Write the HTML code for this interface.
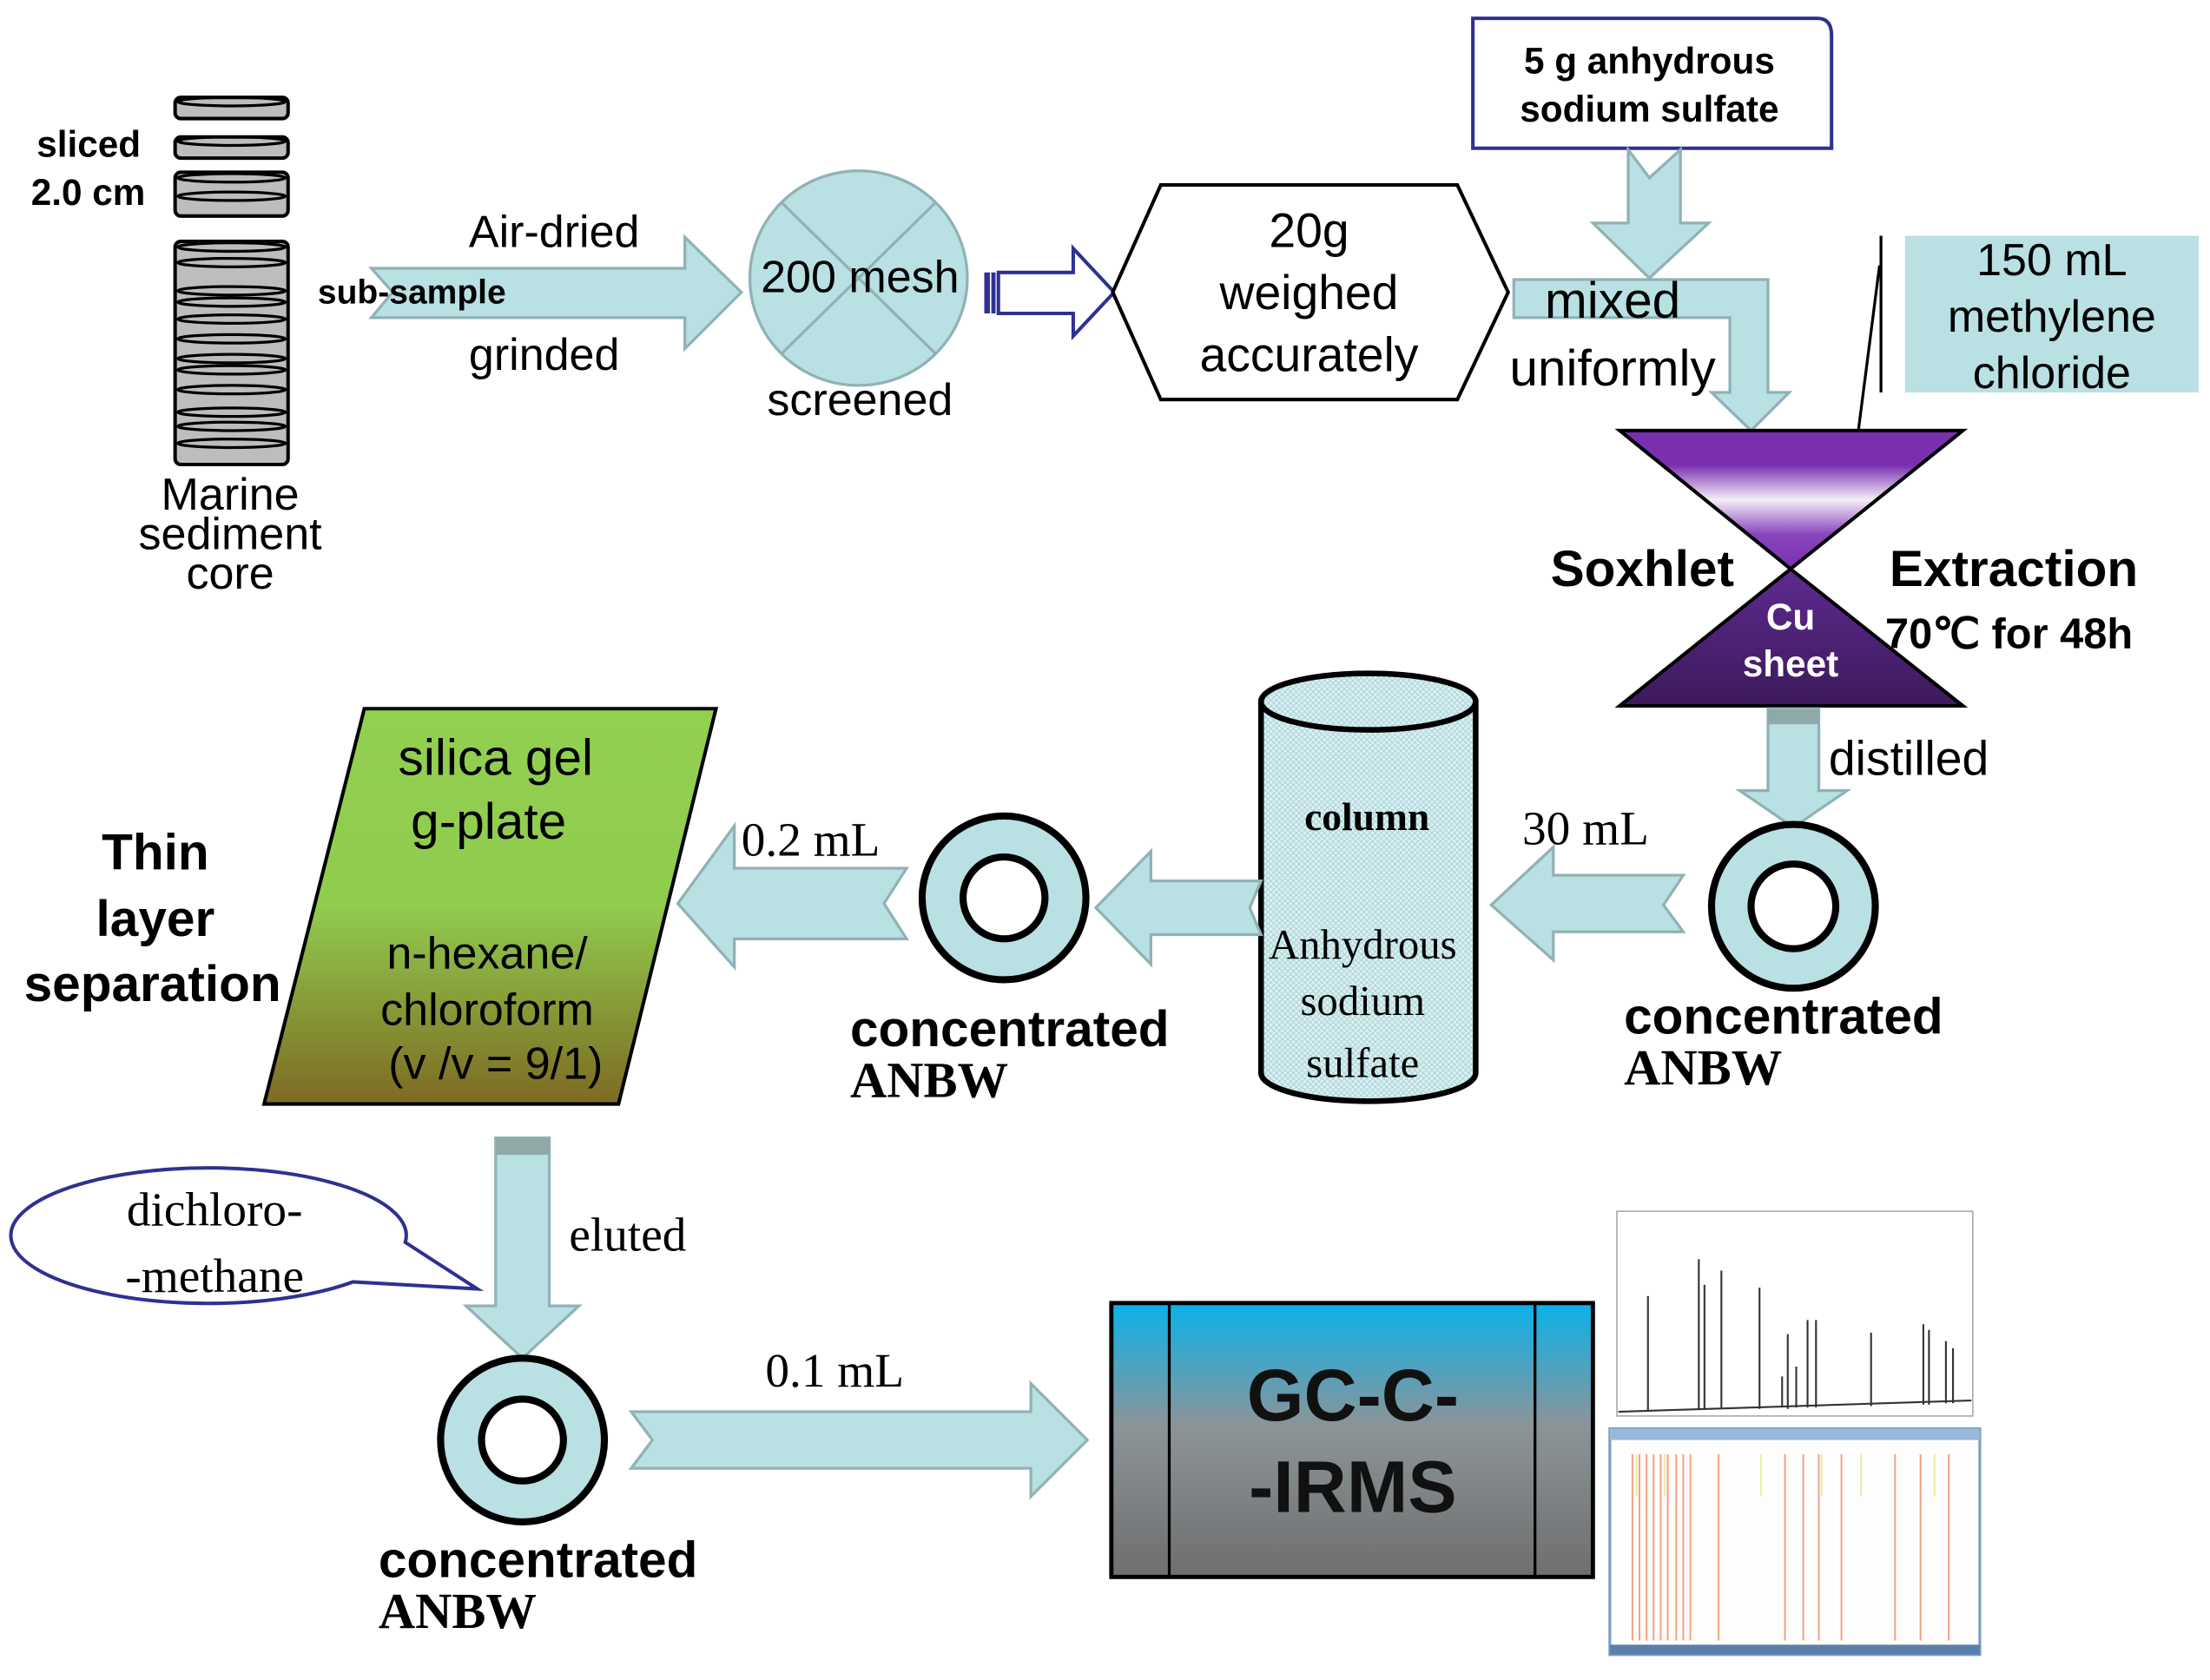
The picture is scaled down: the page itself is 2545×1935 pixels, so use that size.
<!DOCTYPE html>
<html><head><meta charset="utf-8"><style>
html,body{margin:0;padding:0;background:#fff;}
svg{display:block;}
text{font-family:"Liberation Sans",sans-serif;fill:#000;}
.s{font-family:"Liberation Serif",serif;}
.b{font-weight:bold;}
</style></head><body>
<svg width="2545" height="1935" viewBox="0 0 1565 1190" preserveAspectRatio="none" xmlns="http://www.w3.org/2000/svg">
<defs>
<linearGradient id="gTop" x1="0" y1="0" x2="0" y2="1">
<stop offset="0" stop-color="#7a2fb0"/><stop offset="0.25" stop-color="#7a2fb0"/><stop offset="0.5" stop-color="#f4eef8"/><stop offset="0.75" stop-color="#8a45bd"/><stop offset="1" stop-color="#7a2fb0"/></linearGradient>
<linearGradient id="gBot" x1="0" y1="0" x2="0" y2="1"><stop offset="0" stop-color="#5e2a90"/><stop offset="1" stop-color="#3c1a5a"/></linearGradient>
<linearGradient id="gGreen" x1="0" y1="0" x2="0" y2="1"><stop offset="0" stop-color="#92d050"/><stop offset="0.5" stop-color="#90cc4e"/><stop offset="1" stop-color="#7e6a22"/></linearGradient>
<linearGradient id="gGC" x1="0" y1="0" x2="0" y2="1"><stop offset="0" stop-color="#0ab2ea"/><stop offset="0.45" stop-color="#8c9498"/><stop offset="1" stop-color="#6e6e6e"/></linearGradient>
<pattern id="hatch" width="4" height="4" patternUnits="userSpaceOnUse"><rect width="4" height="4" fill="#dcf0f2"/><path d="M0 0L4 4M4 0L0 4" stroke="#a9d3d8" stroke-width="0.6"/></pattern>
</defs>

<!-- core discs -->
<g stroke="#000" stroke-width="2.5" fill="#bdbdbd">
<rect x="124" y="69" width="80" height="15" rx="4"/>
<rect x="124" y="97" width="80" height="15" rx="4"/>
<rect x="124" y="122" width="80" height="31" rx="4"/>
<rect x="124" y="171" width="80" height="158" rx="4"/>
</g>
<g stroke="#000" stroke-width="2" fill="none">
<ellipse cx="164" cy="72" rx="38" ry="3"/><ellipse cx="164" cy="100" rx="38" ry="3"/>
<ellipse cx="164" cy="126" rx="38" ry="3"/><ellipse cx="164" cy="139" rx="38" ry="3"/>
<ellipse cx="164" cy="175" rx="38" ry="3"/><ellipse cx="164" cy="186" rx="38" ry="3"/>
<ellipse cx="164" cy="206" rx="38" ry="3"/><ellipse cx="164" cy="214" rx="38" ry="3"/>
<ellipse cx="164" cy="226" rx="38" ry="3"/><ellipse cx="164" cy="240" rx="38" ry="3"/>
<ellipse cx="164" cy="254" rx="38" ry="3"/><ellipse cx="164" cy="262" rx="38" ry="3"/>
<ellipse cx="164" cy="276" rx="38" ry="3"/><ellipse cx="164" cy="292" rx="38" ry="3"/>
<ellipse cx="164" cy="302" rx="38" ry="3"/><ellipse cx="164" cy="314" rx="38" ry="3"/>
</g>
<text x="26" y="111" class="b" font-size="26">sliced</text>
<text x="22" y="145" class="b" font-size="26">2.0 cm</text>
<text x="163" y="361" font-size="32" text-anchor="middle">Marine</text>
<text x="163" y="389" font-size="32" text-anchor="middle">sediment</text>
<text x="163" y="417" font-size="32" text-anchor="middle">core</text>

<!-- arrow 1 -->
<path d="M171 226L317 226L317 200L343 250L317 300L317 274L171 274L187 250Z" transform="translate(0,0)" fill="none"/>
<path d="M171 0Z" fill="none"/>
<path d="M172 227Z" fill="none"/>
<path d="M171 226" fill="none"/>
<path d="M171 226Z" fill="none"/>
<path d="M171 226Z" fill="none"/>
<path d="M171 226Z" fill="none"/>
<path d="M171 226Z" fill="none"/>
<path d="M171 226Z" fill="none"/>
<path d="M171 226Z" fill="none"/>
<path d="M263 190L485 190L485 168L525 207L485 247L485 225L263 225L278 207Z" fill="#b9e0e3" stroke="#8fb2b5" stroke-width="2"/>
<text x="332" y="175" font-size="32">Air-dried</text>
<text x="225" y="215" class="b" font-size="24">sub-sample</text>
<text x="332" y="262" font-size="32">grinded</text>

<!-- mesh circle -->
<ellipse cx="608" cy="197" rx="77" ry="76" fill="#b9e0e3" stroke="#8fb2b5" stroke-width="2"/>
<path d="M553 143L663 251M663 143L553 251" stroke="#8fb2b5" stroke-width="2"/>
<text x="609" y="207" font-size="32" text-anchor="middle">200 mesh</text>
<text x="609" y="294" font-size="32" text-anchor="middle">screened</text>

<!-- hollow arrow -->
<path d="M707 193L760 193L760 176L789 207L760 238L760 222L707 222Z" fill="#fff" stroke="#2e3192" stroke-width="2.5"/>
<rect x="697" y="193" width="4" height="29" fill="#2e3192"/><rect x="702" y="193" width="3" height="29" fill="#2e3192"/>

<!-- hexagon -->
<path d="M788 207L822 131L1032 131L1068 207L1032 283L822 283Z" fill="#fff" stroke="#000" stroke-width="2.5"/>
<text x="927" y="175" font-size="34" text-anchor="middle">20g</text>
<text x="927" y="219" font-size="34" text-anchor="middle">weighed</text>
<text x="927" y="263" font-size="34" text-anchor="middle">accurately</text>

<!-- 5 g box -->
<path d="M1043 13L1287 13Q1297 13 1297 25L1297 105L1043 105Z" fill="#fff" stroke="#2e3192" stroke-width="2.5"/>
<text x="1168" y="52" class="b" font-size="26" text-anchor="middle">5 g  anhydrous</text>
<text x="1168" y="86" class="b" font-size="26" text-anchor="middle">sodium sulfate</text>
<path d="M1153 106L1168 126L1190 106L1190 158L1210 158L1168 197L1128 158L1153 158Z" fill="#b9e0e3" stroke="#8fb2b5" stroke-width="2"/>

<!-- bent arrow -->
<path d="M1072 198L1252 198L1252 278L1267 278L1240 305L1212 278L1225 278L1225 225L1072 225Z" fill="#b9e0e3" stroke="#8fb2b5" stroke-width="2"/>
<text x="1142" y="225" font-size="36" text-anchor="middle">mixed</text>
<text x="1142" y="273" font-size="36" text-anchor="middle">uniformly</text>

<!-- 150 mL -->
<rect x="1349" y="167" width="208" height="111" fill="#b9e0e3"/>
<text x="1453" y="195" font-size="32" text-anchor="middle">150 mL</text>
<text x="1453" y="235" font-size="32" text-anchor="middle">methylene</text>
<text x="1453" y="275" font-size="32" text-anchor="middle">chloride</text>
<path d="M1332 167L1332 278M1331 188L1316 305" stroke="#000" stroke-width="2"/>

<!-- hourglass -->
<path d="M1147 305L1390 305L1268 403Z" fill="url(#gTop)" stroke="#000" stroke-width="2.5"/>
<path d="M1268 403L1390 500L1147 500Z" fill="url(#gBot)" stroke="#000" stroke-width="2.5"/>
<text x="1098" y="415" class="b" font-size="36">Soxhlet</text>
<text x="1338" y="415" class="b" font-size="36">Extraction</text>
<text x="1268" y="446" class="b" font-size="26" text-anchor="middle" style="fill:#fff">Cu</text>
<text x="1268" y="479" class="b" font-size="26" text-anchor="middle" style="fill:#fff">sheet</text>
<text x="1335" y="459" class="b" font-size="30">70℃  for 48h</text>

<!-- distilled arrow -->
<path d="M1252 502L1288 502L1288 560L1308 560L1270 586L1232 560L1252 560Z" fill="#b9e0e3" stroke="#8fb2b5" stroke-width="2"/>
<rect x="1252" y="503" width="36" height="10" fill="#8fa8aa"/>
<text x="1295" y="549" font-size="34">distilled</text>

<!-- ring right -->
<circle cx="1270" cy="642" r="58" fill="#b9e0e3" stroke="#000" stroke-width="5"/>
<circle cx="1270" cy="642" r="30" fill="#fff" stroke="#000" stroke-width="5"/>
<text x="1150" y="732" class="b" font-size="36">concentrated</text>
<text x="1150" y="768" class="s b" font-size="36">ANBW</text>

<!-- 30 mL arrow -->
<path d="M1192 620L1178 641L1192 660L1100 660L1100 680L1056 641L1100 600L1100 620Z" fill="#b9e0e3" stroke="#8fb2b5" stroke-width="2"/>
<text x="1078" y="598" class="s" font-size="34">30 mL</text>

<!-- column -->
<path d="M893 497L893 760A76 20 0 0 0 1045 760L1045 497Z" fill="url(#hatch)" stroke="#000" stroke-width="4"/>
<ellipse cx="969" cy="497" rx="76" ry="20" fill="url(#hatch)" stroke="#000" stroke-width="4"/>
<text x="968" y="588" class="s b" font-size="28" text-anchor="middle">column</text>
<text x="965" y="679" class="s" font-size="30" text-anchor="middle">Anhydrous</text>
<text x="965" y="719" class="s" font-size="30" text-anchor="middle">sodium</text>
<text x="965" y="763" class="s" font-size="30" text-anchor="middle">sulfate</text>

<!-- arrow col -> ring -->
<path d="M893 624L885 643L893 662L815 662L815 683L776 643L815 603L815 624Z" fill="#b9e0e3" stroke="#8fb2b5" stroke-width="2"/>

<!-- ring middle -->
<circle cx="711" cy="636" r="58" fill="#b9e0e3" stroke="#000" stroke-width="5"/>
<circle cx="711" cy="636" r="29" fill="#fff" stroke="#000" stroke-width="5"/>
<text x="602" y="741" class="b" font-size="36">concentrated</text>
<text x="602" y="777" class="s b" font-size="36">ANBW</text>

<!-- 0.2 mL arrow -->
<path d="M642 615L626 640L642 665L520 665L520 685L480 640L520 585L520 615Z" fill="#b9e0e3" stroke="#8fb2b5" stroke-width="2"/>
<text x="525" y="606" class="s" font-size="34">0.2 mL</text>

<!-- TLC plate -->
<path d="M258 502L507 502L438 782L187 782Z" fill="url(#gGreen)" stroke="#000" stroke-width="2.5"/>
<text x="351" y="549" font-size="36" text-anchor="middle">silica gel</text>
<text x="346" y="594" font-size="36" text-anchor="middle">g-plate</text>
<text x="345" y="686" font-size="32" text-anchor="middle">n-hexane/</text>
<text x="345" y="726" font-size="32" text-anchor="middle">chloroform</text>
<text x="351" y="764" font-size="32" text-anchor="middle">(v /v = 9/1)</text>
<text x="110" y="616" class="b" font-size="36" text-anchor="middle">Thin</text>
<text x="110" y="663" class="b" font-size="36" text-anchor="middle">layer</text>
<text x="108" y="709" class="b" font-size="36" text-anchor="middle">separation</text>

<!-- eluted arrow -->
<path d="M351 806L389 806L389 925L410 925L370 962L330 925L351 925Z" fill="#b9e0e3" stroke="#8fb2b5" stroke-width="2"/>
<rect x="351" y="806" width="38" height="12" fill="#8fa8aa"/>
<text x="403" y="886" class="s" font-size="34">eluted</text>

<!-- bubble -->
<path d="M287 880A140 48 0 1 0 250 908L338 913Z" fill="#fff" stroke="#2e3192" stroke-width="2.5"/>
<text x="152" y="868" class="s" font-size="34" text-anchor="middle">dichloro-</text>
<text x="152" y="915" class="s" font-size="34" text-anchor="middle">-methane</text>

<!-- ring bottom -->
<circle cx="370" cy="1020" r="58" fill="#b9e0e3" stroke="#000" stroke-width="5"/>
<circle cx="370" cy="1020" r="29" fill="#fff" stroke="#000" stroke-width="5"/>
<text x="268" y="1117" class="b" font-size="36">concentrated</text>
<text x="268" y="1153" class="s b" font-size="36">ANBW</text>

<!-- 0.1 mL arrow -->
<path d="M447 1000L730 1000L730 980L770 1020L730 1060L730 1040L447 1040L462 1020Z" fill="#b9e0e3" stroke="#8fb2b5" stroke-width="2"/>
<text x="542" y="982" class="s" font-size="34">0.1 mL</text>

<!-- GC box -->
<rect x="787" y="923" width="341" height="194" fill="url(#gGC)" stroke="#000" stroke-width="3"/>
<path d="M828 923L828 1117M1087 923L1087 1117" stroke="#000" stroke-width="2"/>
<text x="958" y="1006" class="b" font-size="52" text-anchor="middle" style="fill:#111">GC-C-</text>
<text x="958" y="1071" class="b" font-size="52" text-anchor="middle" style="fill:#111">-IRMS</text>

<!-- chromatogram -->
<rect x="1145" y="858" width="252" height="145" fill="#fff" stroke="#aaa" stroke-width="1"/>
<g stroke="#333" stroke-width="1.3" fill="none">
<path d="M1146 1000L1396 992"/>
<path d="M1167 999V918M1203 998V892M1207 998V910M1219 998V900M1246 998V912M1266 998V945M1280 997V935M1286 997V935M1325 996V944M1362 995V938M1366 995V942M1378 994V950M1383 994V955M1262 997V975M1272 997V968"/>
</g>
<!-- screenshot -->
<rect x="1140" y="1012" width="262" height="160" fill="#fdfdfd" stroke="#7aa0c0" stroke-width="2"/>
<rect x="1140" y="1012" width="262" height="8" fill="#9ab8d8"/>
<rect x="1140" y="1165" width="262" height="7" fill="#5a7fa8"/>
<g stroke="#f4a080" stroke-width="1.2">
<path d="M1156 1030V1162M1161 1030V1162M1166 1030V1162M1171 1030V1162M1176 1030V1162M1181 1030V1162M1187 1030V1162M1192 1030V1162M1197 1030V1162M1217 1030V1162M1264 1030V1162M1277 1030V1162M1288 1030V1162M1304 1030V1162M1342 1030V1162M1360 1030V1162M1380 1030V1162"/>
</g>
<g stroke="#e8e890" stroke-width="1"><path d="M1159 1030V1060M1179 1030V1060M1247 1030V1060M1290 1030V1060M1318 1030V1060M1370 1030V1060"/></g>
</svg>
</body></html>
